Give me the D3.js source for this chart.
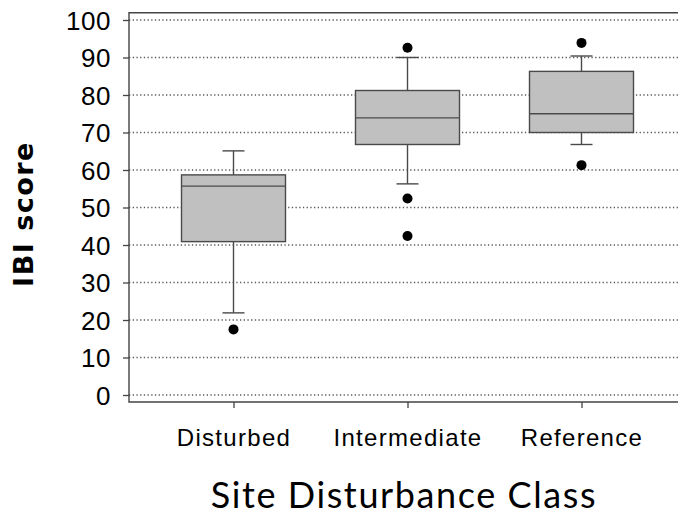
<!DOCTYPE html>
<html><head><meta charset="utf-8">
<script src="https://cdn.jsdelivr.net/npm/d3@7"></script>
<style>html,body{margin:0;padding:0;background:#fff}svg{display:block}</style>
</head><body>
<svg id="chart" width="678" height="516"></svg>
<script>
const categories = ["Disturbed", "Intermediate", "Reference"];
const whiskerLow = [21.9, 56.3, 66.8];
const q1 = [40.9, 66.8, 70.0];
const median = [55.7, 73.9, 75.0];
const q3 = [58.7, 81.2, 86.3];
const whiskerHigh = [65.1, 90.0, 90.4];
const outliers = [[17.5], [92.6, 52.4, 42.4], [93.9, 61.3]];
const yTicks = [0, 10, 20, 30, 40, 50, 60, 70, 80, 90, 100];

const svg = d3.select("#chart");
const plotLeft = 129, plotTop = 12.7, plotBottom = 402, plotRight = 690;
const y = d3.scaleLinear().domain([0, 100]).range([395, 20]);
const x = d3.scalePoint().domain(categories).range([233.5, 581.5]);

// grid
svg.append("g").selectAll("line").data(yTicks).join("line")
  .attr("x1", plotLeft).attr("x2", plotRight)
  .attr("y1", d => y(d)).attr("y2", d => y(d))
  .attr("stroke", "#5a5a5a").attr("stroke-width", 1.3)
  .attr("stroke-dasharray", "1.3 2.4");

// frame
svg.append("path")
  .attr("d", `M${plotRight},${plotTop}H${plotLeft}V${plotBottom}H${plotRight}`)
  .attr("fill", "none").attr("stroke", "#444").attr("stroke-width", 1.4);

// y axis
const yAxis = svg.append("g").attr("transform", `translate(${plotLeft},0)`)
  .call(d3.axisLeft(y).tickValues(yTicks).tickSize(6).tickPadding(12));
yAxis.select(".domain").remove();
yAxis.selectAll(".tick line").attr("stroke", "#444").attr("stroke-width", 1.3);
yAxis.selectAll(".tick text").attr("font-family", "'Liberation Sans', Arial, sans-serif")
  .attr("font-size", 26).attr("fill", "#000").attr("letter-spacing", 0.5).attr("dy", "0.35em");

// x axis
const xAxis = svg.append("g").attr("transform", `translate(0,${plotBottom})`)
  .call(d3.axisBottom(x).tickSize(6).tickPadding(21));
xAxis.select(".domain").remove();
xAxis.selectAll(".tick line").attr("stroke", "#444").attr("stroke-width", 1.3);
xAxis.selectAll(".tick text").attr("font-family", "'Liberation Sans', Arial, sans-serif")
  .attr("font-size", 24).attr("fill", "#000").attr("letter-spacing", 1.3).attr("dy", "0.71em");

// boxes
const boxW = 104, capW = 22;
const g = svg.append("g");
categories.forEach((c, i) => {
  const cx = x(c);
  const st = {stroke: "#4a4a4a", sw: 1.4};
  g.append("line").attr("x1", cx).attr("x2", cx).attr("y1", y(whiskerHigh[i])).attr("y2", y(q3[i]))
    .attr("stroke", st.stroke).attr("stroke-width", st.sw);
  g.append("line").attr("x1", cx).attr("x2", cx).attr("y1", y(q1[i])).attr("y2", y(whiskerLow[i]))
    .attr("stroke", st.stroke).attr("stroke-width", st.sw);
  [whiskerHigh[i], whiskerLow[i]].forEach(v => {
    g.append("line").attr("x1", cx - capW / 2).attr("x2", cx + capW / 2).attr("y1", y(v)).attr("y2", y(v))
      .attr("stroke", st.stroke).attr("stroke-width", st.sw);
  });
  g.append("rect").attr("x", cx - boxW / 2).attr("width", boxW)
    .attr("y", y(q3[i])).attr("height", y(q1[i]) - y(q3[i]))
    .attr("fill", "#c0c0c0").attr("stroke", st.stroke).attr("stroke-width", st.sw);
  g.append("line").attr("x1", cx - boxW / 2).attr("x2", cx + boxW / 2).attr("y1", y(median[i])).attr("y2", y(median[i]))
    .attr("stroke", st.stroke).attr("stroke-width", st.sw);
  g.selectAll(null).data(outliers[i]).join("circle")
    .attr("cx", cx).attr("cy", d => y(d)).attr("r", 5).attr("fill", "#000");
});

// titles
svg.append("text").attr("transform", "translate(33,214) rotate(-90)")
  .attr("text-anchor", "middle").attr("font-family", "'DejaVu Sans', Verdana, sans-serif")
  .attr("font-weight", "bold").attr("font-size", 27).attr("letter-spacing", 1.5).attr("fill", "#000")
  .text("IBI score");
svg.append("text").attr("x", 404).attr("y", 508)
  .attr("text-anchor", "middle").attr("font-family", "Lato, sans-serif")
  .attr("font-size", 36).attr("letter-spacing", 1.6).attr("fill", "#000")
  .text("Site Disturbance Class");
</script>
</body></html>
